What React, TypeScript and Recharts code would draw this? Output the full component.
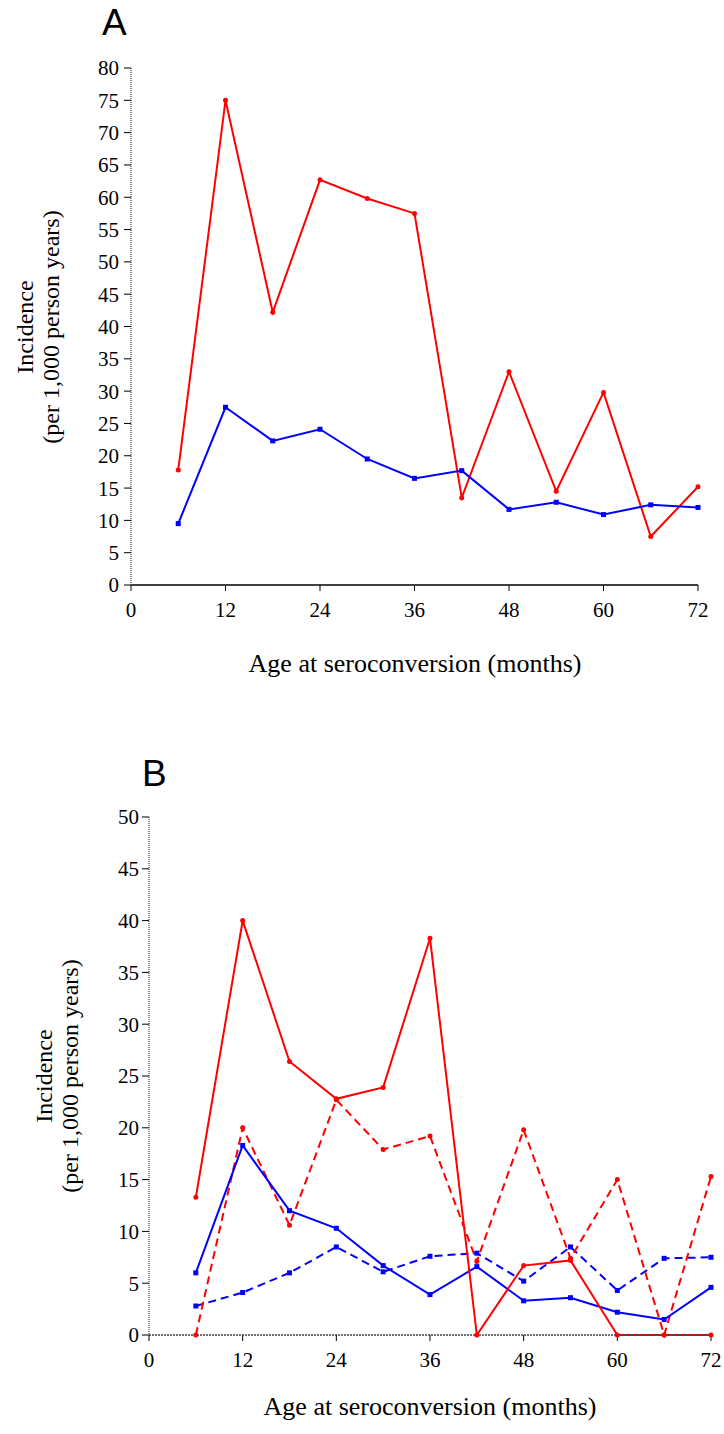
import React from "react";
import { LineChart, Line, XAxis, YAxis } from "recharts";

const months = [6, 12, 18, 24, 30, 36, 42, 48, 54, 60, 66, 72];
const xTicks = [0, 12, 24, 36, 48, 60, 72];

const aRed = [17.8, 75, 42.2, 62.7, 59.8, 57.5, 13.5, 33, 14.5, 29.8, 7.5, 15.2];
const aBlue = [9.5, 27.5, 22.3, 24.1, 19.5, 16.5, 17.7, 11.7, 12.8, 10.9, 12.4, 12];
const aYTicks = [0, 5, 10, 15, 20, 25, 30, 35, 40, 45, 50, 55, 60, 65, 70, 75, 80];

const bRedSolid = [13.3, 40, 26.4, 22.8, 23.9, 38.3, 0, 6.7, 7.2, 0, 0, 0];
const bRedDashed = [0, 20, 10.6, 22.7, 17.9, 19.2, 7.1, 19.8, 7.4, 15, 0, 15.3];
const bBlueSolid = [6, 18.3, 12, 10.3, 6.7, 3.9, 6.6, 3.3, 3.6, 2.2, 1.5, 4.6];
const bBlueDashed = [2.8, 4.1, 6, 8.5, 6.1, 7.6, 7.9, 5.2, 8.5, 4.3, 7.4, 7.5];
const bYTicks = [0, 5, 10, 15, 20, 25, 30, 35, 40, 45, 50];

const dataA = months.map((m, i) => ({ m, red: aRed[i], blue: aBlue[i] }));
const dataB = months.map((m, i) => ({
  m,
  redSolid: bRedSolid[i],
  redDashed: bRedDashed[i],
  blueSolid: bBlueSolid[i],
  blueDashed: bBlueDashed[i],
}));

const RED = "#ff0000";
const BLUE = "#0000ff";
const SERIF = "'Liberation Serif', 'Times New Roman', serif";
const SANS = "'Liberation Sans', Arial, sans-serif";

const RedDot = (p: any) =>
  p.cx == null ? null : <circle key={p.key} cx={p.cx} cy={p.cy} r={2.5} fill={RED} />;
const BlueSquare = (p: any) =>
  p.cx == null ? null : (
    <rect key={p.key} x={p.cx - 2.5} y={p.cy - 2.5} width={5} height={5} fill={BLUE} />
  );

const tickStyle = { fill: "#000", fontSize: 21, fontFamily: SERIF };

export default function App() {
  return (
    <div style={{ position: "absolute", left: 0, top: 0, width: 724, height: 1434, background: "#fff" }}>
      <div style={{ position: "absolute", left: 0, top: 0 }}>
        <LineChart
          width={724}
          height={700}
          data={dataA}
          margin={{ top: 68, right: 26, left: 71, bottom: 75 }}
        >
          <XAxis
            type="number"
            dataKey="m"
            domain={[0, 72]}
            ticks={xTicks}
            interval={0}
            height={40}
            tickSize={6}
            tickMargin={11}
            axisLine={{ stroke: "#000", strokeWidth: 1.5 }}
            tickLine={{ stroke: "#000" }}
            tick={tickStyle}
          />
          <YAxis
            type="number"
            domain={[0, 80]}
            ticks={aYTicks}
            interval={0}
            width={60}
            tickSize={7}
            tickMargin={5}
            axisLine={{ stroke: "#666", strokeDasharray: "1 1", strokeWidth: 1.5 }}
            tickLine={{ stroke: "#000" }}
            tick={tickStyle}
          />
          <Line type="linear" dataKey="red" stroke={RED} strokeWidth={2} dot={RedDot} isAnimationActive={false} />
          <Line type="linear" dataKey="blue" stroke={BLUE} strokeWidth={2} dot={BlueSquare} isAnimationActive={false} />
        </LineChart>
      </div>
      <div style={{ position: "absolute", left: 0, top: 740 }}>
        <LineChart
          width={724}
          height={660}
          data={dataB}
          margin={{ top: 77, right: 13, left: 89, bottom: 25 }}
        >
          <XAxis
            type="number"
            dataKey="m"
            domain={[0, 72]}
            ticks={xTicks}
            interval={0}
            height={40}
            tickSize={6}
            tickMargin={11}
            axisLine={{ stroke: "#444", strokeDasharray: "2 1", strokeWidth: 1.5 }}
            tickLine={{ stroke: "#000" }}
            tick={tickStyle}
          />
          <YAxis
            type="number"
            domain={[0, 50]}
            ticks={bYTicks}
            interval={0}
            width={60}
            tickSize={7}
            tickMargin={3}
            axisLine={{ stroke: "#666", strokeDasharray: "1 1", strokeWidth: 1.5 }}
            tickLine={{ stroke: "#000" }}
            tick={tickStyle}
          />
          <Line type="linear" dataKey="blueDashed" stroke={BLUE} strokeWidth={2} strokeDasharray="8 5" dot={BlueSquare} isAnimationActive={false} />
          <Line type="linear" dataKey="redDashed" stroke={RED} strokeWidth={2} strokeDasharray="8 5" dot={RedDot} isAnimationActive={false} />
          <Line type="linear" dataKey="blueSolid" stroke={BLUE} strokeWidth={2} dot={BlueSquare} isAnimationActive={false} />
          <Line type="linear" dataKey="redSolid" stroke={RED} strokeWidth={2} dot={RedDot} isAnimationActive={false} />
        </LineChart>
      </div>
      <svg
        width={724}
        height={1434}
        style={{ position: "absolute", left: 0, top: 0, pointerEvents: "none" }}
      >
        <text x={102} y={35} fontFamily={SANS} fontSize={37} fill="#000">A</text>
        <text x={142} y={786} fontFamily={SANS} fontSize={37} fill="#000">B</text>

        <text x={33} y={327} transform="rotate(-90 33 327)" textAnchor="middle" fontFamily={SERIF} fontSize={24} fill="#000">Incidence</text>
        <text x={59} y={327} transform="rotate(-90 59 327)" textAnchor="middle" fontFamily={SERIF} fontSize={24} fill="#000">(per 1,000 person years)</text>
        <text x={415} y={672} textAnchor="middle" fontFamily={SERIF} fontSize={26} fill="#000">Age at seroconversion (months)</text>

        <text x={52} y={1076} transform="rotate(-90 52 1076)" textAnchor="middle" fontFamily={SERIF} fontSize={24} fill="#000">Incidence</text>
        <text x={78} y={1076} transform="rotate(-90 78 1076)" textAnchor="middle" fontFamily={SERIF} fontSize={24} fill="#000">(per 1,000 person years)</text>
        <text x={430} y={1415} textAnchor="middle" fontFamily={SERIF} fontSize={26} fill="#000">Age at seroconversion (months)</text>
      </svg>
    </div>
  );
}
